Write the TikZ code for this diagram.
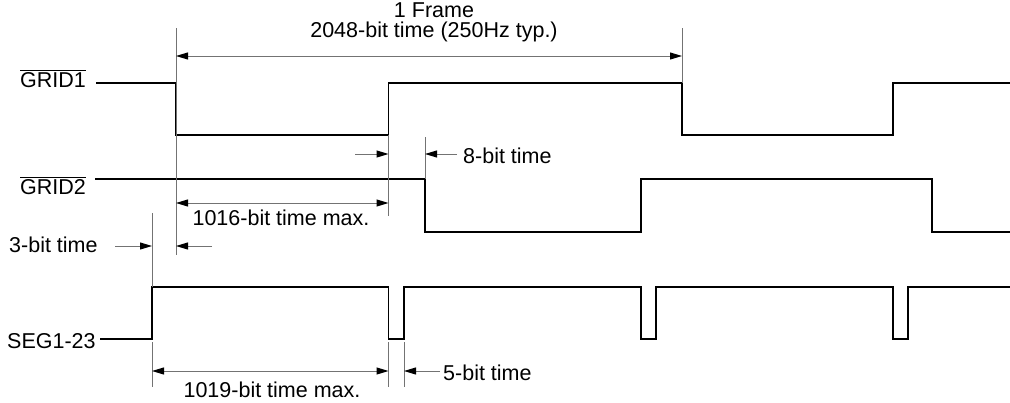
\documentclass[tikz,border=0pt]{standalone}
\usepackage{fontspec}
\setmainfont{Liberation Sans}
\usetikzlibrary{arrows.meta}
\newcommand{\negsig}[1]{$\overline{\mbox{#1}}$}

\begin{document}
\begin{tikzpicture}[
x = 1pt, y = -1pt,
every node/.style = {font=\fontsize{21.5}{21.5}\selectfont, inner sep=0pt},
wave/.style = {line width=1.4pt, line join=miter},
extline/.style = {draw=black!55, line width=1pt},
dimtip/.style = {-{Triangle[length=12pt,width=7pt,color=black]}},
dimboth/.style = {draw=black!55, line width=1pt, {Triangle[length=12pt,width=7pt,color=black]}-{Triangle[length=12pt,width=7pt,color=black]}},
dimone/.style = {draw=black!55, line width=1pt, dimtip}
]
\useasboundingbox (0,0) rectangle (1010,402);

% edge times
\coordinate (s0) at (152,0);
\coordinate (g0) at (176,0);
\coordinate (e1) at (388.5,0);
\coordinate (s1) at (404,0);
\coordinate (h1) at (425,0);
\coordinate (e2) at (641,0);
\coordinate (s2) at (656,0);
\coordinate (g2) at (682,0);
\coordinate (e3) at (893,0);
\coordinate (s3) at (908,0);
\coordinate (h3) at (932,0);

% signal names
\node (grid1) [anchor=base west] at (20,87) {\negsig{GRID1}};
\node (grid2) [anchor=base west] at (20,194) {\negsig{GRID2}};
\node (seg) [anchor=base west] at (7,348) {SEG1-23};

% waveforms
\draw[wave] (96,83) -- (g0 |- 0,83) -- (g0 |- 0,135) -- (e1 |- 0,135) -- (e1 |- 0,83)
	-- (g2 |- 0,83) -- (g2 |- 0,135) -- (e3 |- 0,135) -- (e3 |- 0,83) -- (1010,83);
\draw[wave] (95,179) -- (h1 |- 0,179) -- (h1 |- 0,232) -- (e2 |- 0,232) -- (e2 |- 0,179)
	-- (h3 |- 0,179) -- (h3 |- 0,232) -- (1010,232);
\draw[wave] (100,339) -- (s0 |- 0,339) -- (s0 |- 0,287) -- (e1 |- 0,287) -- (e1 |- 0,339)
	-- (s1 |- 0,339) -- (s1 |- 0,287) -- (e2 |- 0,287) -- (e2 |- 0,339) -- (s2 |- 0,339)
	-- (s2 |- 0,287) -- (e3 |- 0,287) -- (e3 |- 0,339) -- (s3 |- 0,339) -- (s3 |- 0,287)
	-- (1010,287);

% extension lines
\draw[extline] (g0 |- 0,28) -- (g0 |- 0,255);
\draw[extline] (g2 |- 0,28) -- (g2 |- 0,83);
\draw[extline] (e1 |- 0,135) -- (e1 |- 0,216);
\draw[extline] (h1 |- 0,137) -- (h1 |- 0,179);
\draw[extline] (s0 |- 0,213) -- (s0 |- 0,287);
\draw[extline] (s0 |- 0,342) -- (s0 |- 0,387);
\draw[extline] (e1 |- 0,342) -- (e1 |- 0,387);
\draw[extline] (s1 |- 0,342) -- (s1 |- 0,387);

% dimensions
\draw[dimboth] (g0 |- 0,56) -- (g2 |- 0,56);
\node (frame) [anchor=base] at (434,17) {1 Frame};
\node (period) [anchor=base] at (434,37) {2048-bit time (250Hz typ.)};

\draw[dimone] (355,154) -- (e1 |- 0,154);
\draw[dimone] (457,154) -- (h1 |- 0,154);
\node (eight) [anchor=base west] at (463,163) {8-bit time};

\draw[dimboth] (g0 |- 0,203) -- (e1 |- 0,203);
\node (gmax) [anchor=base] at (281,225) {1016-bit time max.};

\draw[dimone] (115,246) -- (s0 |- 0,246);
\draw[dimone] (212,246) -- (g0 |- 0,246);
\node (three) [anchor=base west] at (9,252) {3-bit time};

\draw[dimboth] (s0 |- 0,371) -- (e1 |- 0,371);
\draw[dimone] (440,371) -- (s1 |- 0,371);
\node (smax) [anchor=base] at (272,397) {1019-bit time max.};
\node (five) [anchor=base west] at (443,380) {5-bit time};
\end{tikzpicture}
\end{document}
